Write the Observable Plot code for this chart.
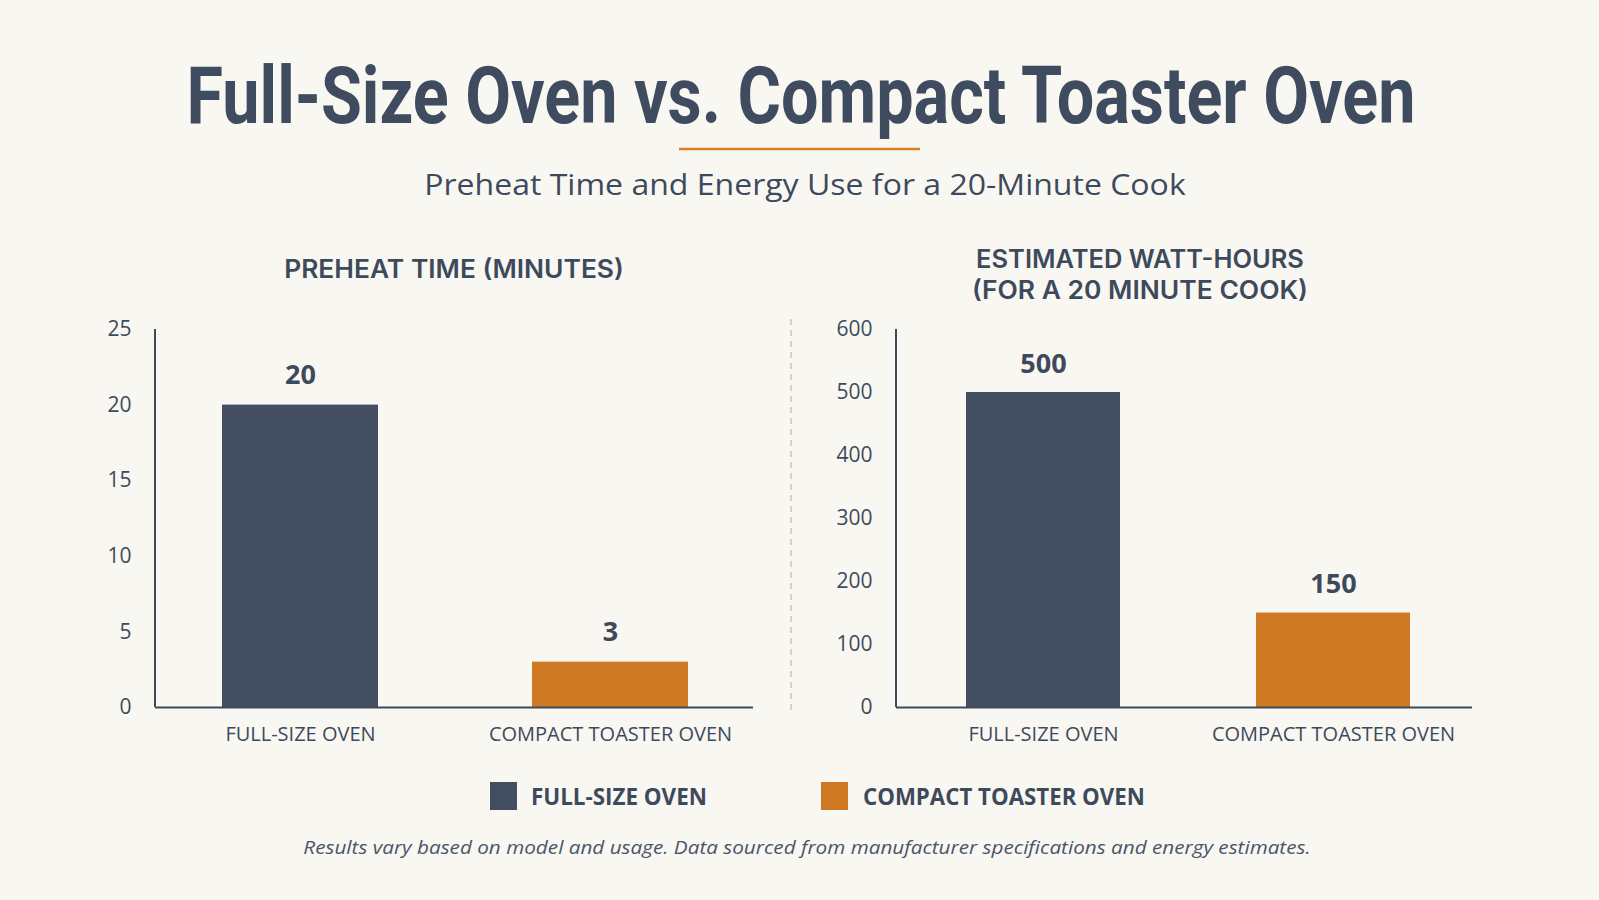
<!DOCTYPE html>
<html>
<head>
<meta charset="utf-8">
<script src="https://cdn.jsdelivr.net/npm/d3@7"></script>
<script src="https://cdn.jsdelivr.net/npm/@observablehq/plot@0.6"></script>
<style>
  html, body { margin: 0; padding: 0; background: #f9f7f2; }
  #page { position: relative; width: 1599px; height: 900px; overflow: hidden; background: #f9f7f2; }
  #page > svg.overlay { position: absolute; left: 0; top: 0; }
  .chart { position: absolute; top: 300px; }
</style>
</head>
<body>
<div id="page"></div>
<script>
// Oven comparison data
const ovens = ["FULL-SIZE OVEN", "COMPACT TOASTER OVEN"];
const preheatMinutes = [20, 3];
const wattHours = [500, 150];
const ovenColors = ["#434f61", "#cf7a22"];
const preheatTicks = [0, 5, 10, 15, 20, 25];
const energyTicks = [0, 100, 200, 300, 400, 500, 600];

const ink = "#3d4a5c";
const page = document.getElementById("page");

// Vertical axis line drawn from the frame's own dimensions
function yAxisLine(index, scales, values, dims) {
  const l = document.createElementNS("http://www.w3.org/2000/svg", "line");
  l.setAttribute("x1", dims.marginLeft);
  l.setAttribute("x2", dims.marginLeft);
  l.setAttribute("y1", dims.marginTop);
  l.setAttribute("y2", dims.height - dims.marginBottom);
  l.setAttribute("stroke", ink);
  l.setAttribute("stroke-width", 2);
  return l;
}

function barChart({values, ticks, max, width, marginLeft, marginRight, xRange, paddingInner, labelDy}) {
  const rows = ovens.map((name, i) => ({name, value: values[i]}));
  return Plot.plot({
    width,
    height: 470,
    marginLeft,
    marginRight,
    marginTop: 29,
    marginBottom: 63,
    style: {fontFamily: "'Open Sans', sans-serif", fontSize: "20px", color: ink, background: "transparent", overflow: "visible"},
    x: {domain: ovens, range: xRange, paddingInner, paddingOuter: 0.25, label: null},
    y: {domain: [0, max], label: null},
    color: {domain: ovens, range: ovenColors},
    marks: [
      Plot.barY(rows, {x: "name", y: "value", fill: "name"}),
      Plot.text(rows, {x: "name", y: "value", text: d => String(d.value), lineAnchor: "bottom", dy: labelDy,
        fontSize: 27, fontWeight: 700, fill: ink}),
      Plot.ruleY([0], {stroke: ink, strokeWidth: 2}),
      yAxisLine,
      Plot.axisY({ticks, tickSize: 0, tickPadding: 24, label: null, fontSize: 21}),
      Plot.axisX({tickSize: 0, tickPadding: 19, label: null, fontSize: 20})
    ]
  });
}

const left = barChart({values: preheatMinutes, ticks: preheatTicks, max: 25, width: 790,
  marginLeft: 155, marginRight: 37, xRange: [143.8, 765.5], paddingInner: 0.4976, labelDy: -21});
left.classList.add("chart");
left.style.left = "0px";
page.appendChild(left);

const right = barChart({values: wattHours, ticks: energyTicks, max: 600, width: 799,
  marginLeft: 96, marginRight: 127, xRange: [93.5, 682.5], paddingInner: 0.469, labelDy: -20});
right.classList.add("chart");
right.style.left = "800px";
page.appendChild(right);

// Titles, divider, legend and footnote
const NS = "http://www.w3.org/2000/svg";
const overlay = document.createElementNS(NS, "svg");
overlay.setAttribute("class", "overlay");
overlay.setAttribute("width", 1599);
overlay.setAttribute("height", 900);
page.appendChild(overlay);

// Text fitted to a target width by a horizontal scale about its anchor
function text(str, {x, y, size, weight = 400, family = "'Open Sans', sans-serif", anchor = "middle", length, style = "normal", fill = ink}) {
  const t = document.createElementNS(NS, "text");
  t.textContent = str;
  t.setAttribute("x", x);
  t.setAttribute("y", y);
  t.setAttribute("font-size", size);
  t.setAttribute("font-weight", weight);
  t.setAttribute("font-family", family);
  t.setAttribute("font-style", style);
  t.setAttribute("text-anchor", anchor);
  t.setAttribute("fill", fill);
  overlay.appendChild(t);
  if (length) {
    const w = t.getComputedTextLength();
    if (w > 0) {
      const s = length / w;
      t.setAttribute("transform", `translate(${x},0) scale(${s},1) translate(${-x},0)`);
    }
  }
  return t;
}
function rect(x, y, w, h, fill) {
  const r = document.createElementNS(NS, "rect");
  r.setAttribute("x", x); r.setAttribute("y", y);
  r.setAttribute("width", w); r.setAttribute("height", h);
  r.setAttribute("fill", fill);
  overlay.appendChild(r);
}
function line(x1, y1, x2, y2, stroke, w, dash) {
  const l = document.createElementNS(NS, "line");
  l.setAttribute("x1", x1); l.setAttribute("y1", y1);
  l.setAttribute("x2", x2); l.setAttribute("y2", y2);
  l.setAttribute("stroke", stroke); l.setAttribute("stroke-width", w);
  if (dash) l.setAttribute("stroke-dasharray", dash);
  overlay.appendChild(l);
}

text("Full-Size Oven vs. Compact Toaster Oven", {x: 801, y: 123, size: 80, weight: 700, family: "Roboto, sans-serif", length: 1229, fill: "#3f4b5e"});
line(679, 149, 920, 149, "#d4822a", 2.5);
text("Preheat Time and Energy Use for a 20-Minute Cook", {x: 805, y: 195, size: 30, length: 762});

text("PREHEAT TIME (MINUTES)", {x: 454, y: 278, size: 25, weight: 600, family: "Inter, sans-serif", length: 340});
text("ESTIMATED WATT-HOURS", {x: 1140, y: 268, size: 25, weight: 600, family: "Inter, sans-serif", length: 328});
text("(FOR A 20 MINUTE COOK)", {x: 1140, y: 299, size: 25, weight: 600, family: "Inter, sans-serif", length: 336});

line(791, 319, 791, 711, "#c9c6c0", 1.5, "6 5");

// Legend
rect(490, 782, 27, 28, ovenColors[0]);
text(ovens[0], {x: 531, y: 805, size: 23, weight: 700, anchor: "start", length: 176});
rect(821, 782, 27, 28, ovenColors[1]);
text(ovens[1], {x: 863, y: 805, size: 23, weight: 700, anchor: "start", length: 282});

text("Results vary based on model and usage. Data sourced from manufacturer specifications and energy estimates.",
  {x: 807, y: 854, size: 19, style: "italic", length: 1008, fill: "#4a5568"});
</script>
</body>
</html>
